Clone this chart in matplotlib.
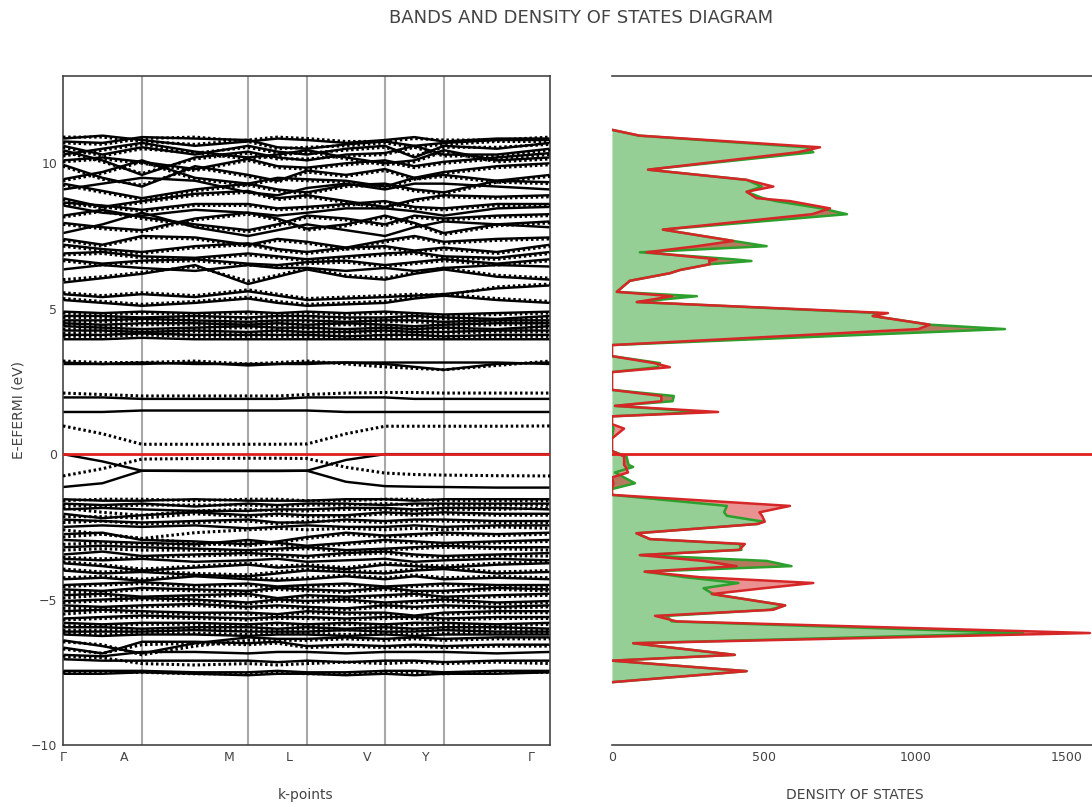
import matplotlib
matplotlib.use("Agg")
import matplotlib.pyplot as plt

plt.rcParams['font.family'] = ['DejaVu Sans']

# k-path: sample positions (nodes + midpoints), node positions, tick labels
k_dist = [0.0, 0.081, 0.162, 0.271, 0.380, 0.4405, 0.501, 0.581, 0.661, 0.7215, 0.782, 0.891, 1.0]
k_nodes = [0.162, 0.380, 0.501, 0.661, 0.782]
tick_k = [0.0, 0.125, 0.341, 0.464, 0.624, 0.745, 0.961]
tick_labels = ['Γ', 'A', 'M', 'L', 'V', 'Y', 'Γ']

# spin-up bands (solid), energies E-Ef in eV at k_dist
up_cond = [
    [10.85, 10.95, 10.8, 10.6, 10.75, 10.85, 10.8, 10.7, 10.8, 10.9, 10.75, 10.85, 10.85],
    [10.75, 10.7, 10.9, 10.85, 10.8, 10.55, 10.5, 10.65, 10.75, 10.6, 10.7, 10.8, 10.8],
    [10.6, 10.3, 10.55, 10.3, 10.6, 10.4, 10.3, 10.5, 10.6, 10.2, 10.6, 10.5, 10.7],
    [10.45, 10.1, 9.6, 10.2, 10.4, 10.2, 10.1, 10.3, 10.35, 10.6, 10.3, 10.3, 10.5],
    [10.3, 10.5, 10.7, 10.4, 10.2, 10.3, 10.45, 10.2, 10.0, 10.1, 10.45, 10.1, 10.2],
    [10.1, 10.2, 10.05, 9.8, 10.15, 9.9, 9.85, 10.0, 10.1, 9.9, 10.05, 10.2, 10.35],
    [9.95, 9.5, 9.2, 9.9, 9.6, 9.4, 9.75, 9.6, 9.8, 9.5, 9.7, 9.9, 10.0],
    [9.45, 9.7, 10.1, 9.5, 9.3, 9.5, 9.45, 9.4, 9.2, 9.5, 9.6, 9.4, 9.6],
    [9.3, 9.05, 8.8, 9.1, 9.3, 9.1, 9.0, 9.25, 9.3, 9.1, 9.0, 9.4, 9.35],
    [9.1, 9.3, 9.5, 9.4, 9.0, 8.9, 9.15, 9.3, 9.1, 9.3, 9.3, 9.2, 9.1],
    [8.8, 8.5, 8.7, 8.95, 9.05, 8.8, 8.9, 8.7, 8.5, 8.75, 8.9, 8.85, 8.9],
    [8.65, 8.55, 8.4, 8.6, 8.6, 8.45, 8.5, 8.6, 8.7, 8.5, 8.45, 8.6, 8.6],
    [8.55, 8.3, 8.2, 8.4, 8.3, 8.2, 8.3, 8.45, 8.45, 8.35, 8.2, 8.45, 8.5],
    [8.2, 8.4, 8.15, 7.9, 7.7, 7.9, 8.2, 8.1, 7.9, 8.2, 8.1, 8.2, 8.25],
    [7.95, 7.8, 7.7, 8.1, 8.3, 8.1, 7.75, 7.9, 8.2, 7.95, 7.6, 7.9, 8.0],
    [7.6, 7.9, 8.3, 7.8, 7.5, 7.7, 7.9, 7.7, 7.5, 7.8, 8.0, 7.9, 7.8],
    [7.4, 7.2, 7.5, 7.45, 7.2, 7.4, 7.3, 7.1, 7.35, 7.5, 7.3, 7.4, 7.45],
    [7.2, 7.05, 6.95, 7.15, 7.25, 7.05, 6.95, 7.1, 7.15, 7.0, 7.1, 6.95, 7.2],
    [6.9, 6.95, 6.8, 6.75, 6.9, 6.8, 6.7, 6.8, 6.9, 6.95, 6.8, 6.75, 6.95],
    [6.7, 6.55, 6.65, 6.7, 6.55, 6.5, 6.6, 6.65, 6.5, 6.6, 6.7, 6.55, 6.7],
    [6.35, 6.5, 6.4, 6.3, 6.5, 6.4, 6.4, 6.3, 6.4, 6.3, 6.4, 6.5, 6.45],
    [5.9, 6.05, 6.2, 6.5, 5.85, 6.1, 6.35, 6.1, 6.0, 6.2, 6.35, 6.1, 6.0],
    [5.5, 5.4, 5.5, 5.4, 5.6, 5.45, 5.3, 5.35, 5.4, 5.45, 5.5, 5.7, 5.8],
    [5.3, 5.2, 5.1, 5.2, 5.35, 5.2, 5.1, 5.15, 5.2, 5.35, 5.45, 5.3, 5.2],
]
up_block = [
    [4.9, 4.85, 4.9, 4.85, 4.9, 4.85, 4.9, 4.85, 4.9, 4.85, 4.8, 4.85, 4.9],
    [4.75, 4.75, 4.7, 4.75, 4.7, 4.75, 4.75, 4.7, 4.7, 4.75, 4.7, 4.65, 4.75],
    [4.6, 4.6, 4.65, 4.6, 4.55, 4.6, 4.6, 4.55, 4.6, 4.6, 4.55, 4.6, 4.6],
    [4.5, 4.45, 4.5, 4.5, 4.45, 4.5, 4.45, 4.5, 4.45, 4.4, 4.45, 4.5, 4.5],
    [4.4, 4.35, 4.3, 4.35, 4.4, 4.35, 4.35, 4.3, 4.35, 4.3, 4.35, 4.3, 4.4],
    [4.25, 4.25, 4.2, 4.25, 4.2, 4.25, 4.2, 4.2, 4.25, 4.2, 4.2, 4.25, 4.25],
    [4.1, 4.1, 4.15, 4.1, 4.1, 4.1, 4.1, 4.05, 4.1, 4.1, 4.05, 4.1, 4.1],
    [3.95, 3.95, 4.0, 3.95, 3.95, 3.95, 3.95, 3.95, 3.95, 3.95, 3.95, 3.95, 3.95],
]
up_gap = [
    [3.15, 3.1, 3.1, 3.15, 3.05, 3.1, 3.15, 3.15, 3.1, 3.0, 2.9, 3.1, 3.15],
    [3.1, 3.1, 3.15, 3.1, 3.1, 3.1, 3.1, 3.15, 3.15, 3.15, 3.15, 3.15, 3.1],
    [1.95, 1.95, 1.9, 1.9, 1.9, 1.9, 1.95, 1.95, 1.95, 1.9, 1.9, 1.9, 1.9],
    [1.45, 1.45, 1.5, 1.5, 1.5, 1.5, 1.5, 1.45, 1.45, 1.45, 1.45, 1.45, 1.45],
    [0.0, -0.25, -0.57, -0.57, -0.57, -0.57, -0.57, -0.2, 0.0, 0.0, 0.0, 0.0, 0.0],
    [-1.13, -1.0, -0.57, -0.58, -0.58, -0.58, -0.57, -0.95, -1.1, -1.12, -1.13, -1.15, -1.15],
]
up_valence = [
    [-1.55, -1.6, -1.6, -1.55, -1.6, -1.6, -1.6, -1.55, -1.55, -1.6, -1.55, -1.55, -1.55],
    [-1.7, -1.75, -1.7, -1.8, -1.7, -1.75, -1.7, -1.7, -1.75, -1.7, -1.7, -1.7, -1.7],
    [-1.9, -1.85, -1.9, -1.95, -1.95, -1.9, -1.9, -1.85, -1.85, -1.9, -1.85, -1.85, -1.9],
    [-2.05, -2.2, -2.1, -2.0, -2.1, -2.05, -2.1, -2.1, -2.0, -2.05, -2.0, -2.05, -2.05],
    [-2.25, -2.3, -2.35, -2.3, -2.25, -2.35, -2.35, -2.25, -2.3, -2.25, -2.25, -2.3, -2.3],
    [-2.5, -2.45, -2.5, -2.45, -2.55, -2.5, -2.45, -2.5, -2.5, -2.45, -2.5, -2.45, -2.45],
    [-2.75, -2.7, -2.95, -3.0, -3.1, -3.0, -2.85, -2.7, -2.8, -2.75, -2.7, -2.75, -2.7],
    [-2.95, -3.0, -3.05, -3.1, -2.95, -3.05, -3.15, -3.05, -2.95, -3.0, -3.05, -3.0, -2.95],
    [-3.2, -3.15, -3.2, -3.25, -3.3, -3.25, -3.2, -3.3, -3.25, -3.2, -3.15, -3.2, -3.2],
    [-3.45, -3.35, -3.5, -3.45, -3.4, -3.45, -3.5, -3.4, -3.35, -3.45, -3.5, -3.45, -3.4],
    [-3.6, -3.65, -3.6, -3.7, -3.65, -3.6, -3.7, -3.65, -3.6, -3.7, -3.65, -3.6, -3.65],
    [-3.75, -3.85, -4.0, -3.9, -3.8, -3.9, -3.85, -3.95, -3.8, -3.85, -3.9, -3.8, -3.75],
    [-4.0, -4.1, -4.05, -4.15, -4.2, -4.1, -4.0, -4.05, -4.1, -4.0, -3.95, -4.1, -4.05],
    [-4.3, -4.25, -4.35, -4.2, -4.3, -4.35, -4.3, -4.2, -4.3, -4.2, -4.3, -4.25, -4.3],
    [-4.5, -4.45, -4.4, -4.5, -4.45, -4.55, -4.5, -4.45, -4.55, -4.5, -4.45, -4.5, -4.5],
    [-4.65, -4.7, -4.6, -4.65, -4.7, -4.6, -4.65, -4.7, -4.6, -4.7, -4.7, -4.6, -4.65],
    [-4.85, -4.8, -4.9, -4.85, -4.8, -4.95, -4.85, -4.9, -4.85, -4.8, -4.9, -4.85, -4.8],
    [-5.05, -5.0, -4.95, -5.0, -5.1, -5.0, -5.05, -5.0, -5.1, -5.05, -5.0, -5.1, -5.05],
    [-5.2, -5.25, -5.2, -5.15, -5.25, -5.2, -5.25, -5.3, -5.2, -5.25, -5.2, -5.25, -5.2],
    [-5.4, -5.35, -5.4, -5.45, -5.45, -5.5, -5.4, -5.45, -5.45, -5.55, -5.45, -5.4, -5.4],
    [-5.65, -5.6, -5.55, -5.6, -5.65, -5.6, -5.6, -5.65, -5.6, -5.6, -5.65, -5.6, -5.6],
    [-5.8, -5.85, -5.8, -5.8, -5.85, -5.8, -5.85, -5.8, -5.85, -5.8, -5.8, -5.85, -5.8],
    [-5.95, -5.95, -6.0, -5.95, -5.95, -6.0, -5.95, -6.0, -5.95, -6.0, -5.95, -5.95, -6.0],
    [-6.1, -6.1, -6.1, -6.05, -6.1, -6.1, -6.1, -6.05, -6.1, -6.1, -6.05, -6.1, -6.1],
    [-6.2, -6.25, -6.2, -6.2, -6.25, -6.2, -6.2, -6.25, -6.2, -6.25, -6.2, -6.2, -6.2],
    [-6.4, -6.6, -6.85, -6.5, -6.3, -6.35, -6.35, -6.3, -6.35, -6.3, -6.35, -6.3, -6.3],
    [-6.65, -6.85, -6.45, -6.45, -6.5, -6.45, -6.6, -6.55, -6.6, -6.55, -6.6, -6.55, -6.55],
    [-6.9, -6.95, -6.8, -6.8, -6.85, -6.8, -6.8, -6.85, -6.8, -6.8, -6.8, -6.85, -6.8],
    [-7.05, -7.1, -7.1, -7.1, -7.1, -7.15, -7.1, -7.15, -7.1, -7.1, -7.15, -7.1, -7.1],
    [-7.45, -7.45, -7.45, -7.5, -7.5, -7.45, -7.5, -7.5, -7.45, -7.45, -7.5, -7.45, -7.45],
    [-7.55, -7.55, -7.5, -7.55, -7.6, -7.55, -7.55, -7.6, -7.55, -7.6, -7.55, -7.55, -7.5],
]

# spin-down bands (dotted)
dn_cond = [
    [10.9, 10.9, 10.75, 10.65, 10.8, 10.9, 10.85, 10.75, 10.75, 10.85, 10.8, 10.8, 10.9],
    [10.7, 10.65, 10.85, 10.9, 10.75, 10.5, 10.55, 10.6, 10.7, 10.55, 10.65, 10.75, 10.75],
    [10.55, 10.25, 10.5, 10.35, 10.55, 10.35, 10.35, 10.45, 10.55, 10.25, 10.55, 10.55, 10.65],
    [10.4, 10.05, 9.65, 10.15, 10.35, 10.15, 10.15, 10.25, 10.3, 10.55, 10.25, 10.25, 10.45],
    [10.25, 10.45, 10.65, 10.35, 10.15, 10.25, 10.4, 10.15, 9.95, 10.05, 10.4, 10.05, 10.15],
    [10.05, 10.15, 10.0, 9.75, 10.1, 9.85, 9.8, 9.95, 10.05, 9.85, 10.0, 10.15, 10.3],
    [9.9, 9.45, 9.25, 9.85, 9.55, 9.35, 9.7, 9.55, 9.75, 9.45, 9.65, 9.85, 9.95],
    [9.4, 9.65, 10.05, 9.45, 9.25, 9.45, 9.4, 9.35, 9.15, 9.45, 9.55, 9.35, 9.55],
    [9.25, 9.0, 8.75, 9.05, 9.25, 9.05, 8.95, 9.2, 9.25, 9.05, 8.95, 9.35, 9.3],
    [8.75, 8.45, 8.65, 8.9, 9.0, 8.75, 8.85, 8.65, 8.45, 8.7, 8.85, 8.8, 8.85],
    [8.6, 8.5, 8.35, 8.55, 8.55, 8.4, 8.45, 8.55, 8.65, 8.45, 8.4, 8.55, 8.55],
    [8.15, 8.35, 8.1, 7.85, 7.65, 7.85, 8.15, 8.05, 7.85, 8.15, 8.05, 8.15, 8.2],
    [7.9, 7.75, 7.65, 8.05, 8.25, 8.05, 7.7, 7.85, 8.15, 7.9, 7.55, 7.85, 7.95],
    [7.35, 7.15, 7.45, 7.4, 7.15, 7.35, 7.25, 7.05, 7.3, 7.45, 7.25, 7.35, 7.4],
    [7.15, 7.0, 6.9, 7.1, 7.2, 7.0, 6.9, 7.05, 7.1, 6.95, 7.05, 6.9, 7.15],
    [6.85, 6.9, 6.75, 6.7, 6.85, 6.75, 6.65, 6.75, 6.85, 6.9, 6.75, 6.7, 6.9],
    [6.65, 6.5, 6.6, 6.65, 6.5, 6.45, 6.55, 6.6, 6.45, 6.55, 6.65, 6.5, 6.65],
    [6.0, 6.1, 6.25, 6.45, 5.95, 6.15, 6.4, 6.15, 6.05, 6.25, 6.4, 6.15, 6.05],
    [5.55, 5.45, 5.55, 5.45, 5.65, 5.5, 5.35, 5.4, 5.45, 5.5, 5.45, 5.75, 5.85],
    [5.35, 5.25, 5.15, 5.25, 5.4, 5.25, 5.15, 5.2, 5.25, 5.4, 5.5, 5.35, 5.25],
]
dn_block = [
    [4.85, 4.8, 4.85, 4.8, 4.85, 4.8, 4.85, 4.8, 4.85, 4.8, 4.75, 4.8, 4.85],
    [4.7, 4.7, 4.65, 4.7, 4.65, 4.7, 4.7, 4.65, 4.65, 4.7, 4.65, 4.6, 4.7],
    [4.55, 4.55, 4.6, 4.55, 4.5, 4.55, 4.55, 4.5, 4.55, 4.55, 4.5, 4.55, 4.55],
    [4.45, 4.4, 4.45, 4.45, 4.4, 4.45, 4.4, 4.45, 4.4, 4.35, 4.4, 4.45, 4.45],
    [4.3, 4.3, 4.25, 4.3, 4.35, 4.3, 4.3, 4.25, 4.3, 4.25, 4.3, 4.25, 4.35],
    [4.15, 4.2, 4.15, 4.2, 4.15, 4.2, 4.15, 4.15, 4.2, 4.15, 4.15, 4.2, 4.2],
    [4.05, 4.05, 4.1, 4.05, 4.05, 4.05, 4.05, 4.0, 4.05, 4.05, 4.0, 4.05, 4.05],
]
dn_gap = [
    [3.2, 3.15, 3.15, 3.2, 3.1, 3.15, 3.2, 3.1, 3.0, 2.95, 2.9, 3.05, 3.2],
    [2.1, 2.05, 2.0, 2.0, 2.0, 2.0, 2.05, 2.1, 2.12, 2.12, 2.1, 2.1, 2.1],
    [0.97, 0.7, 0.34, 0.34, 0.34, 0.34, 0.35, 0.7, 0.96, 0.96, 0.96, 0.96, 0.97],
    [-0.75, -0.5, -0.17, -0.15, -0.14, -0.14, -0.15, -0.45, -0.65, -0.7, -0.72, -0.74, -0.75],
]
dn_valence = [
    [-1.6, -1.55, -1.55, -1.6, -1.55, -1.55, -1.6, -1.6, -1.55, -1.55, -1.6, -1.6, -1.6],
    [-1.75, -1.8, -1.75, -1.75, -1.75, -1.8, -1.75, -1.75, -1.7, -1.75, -1.75, -1.75, -1.75],
    [-1.85, -2.0, -2.1, -1.95, -1.9, -1.95, -1.95, -1.9, -1.9, -1.95, -1.9, -1.9, -1.85],
    [-2.15, -2.15, -2.2, -2.05, -2.15, -2.1, -2.15, -2.15, -2.05, -2.1, -2.05, -2.1, -2.1],
    [-2.35, -2.3, -2.4, -2.35, -2.3, -2.4, -2.3, -2.3, -2.35, -2.3, -2.3, -2.35, -2.35],
    [-2.6, -2.75, -2.9, -2.7, -2.6, -2.55, -2.6, -2.55, -2.6, -2.55, -2.6, -2.5, -2.55],
    [-2.85, -2.75, -2.9, -3.05, -3.15, -3.05, -2.9, -2.75, -2.85, -2.8, -2.75, -2.8, -2.75],
    [-3.1, -3.05, -3.1, -3.15, -3.0, -3.1, -3.2, -3.1, -3.0, -3.05, -3.1, -3.05, -3.0],
    [-3.3, -3.25, -3.3, -3.3, -3.35, -3.3, -3.25, -3.35, -3.3, -3.25, -3.2, -3.25, -3.3],
    [-3.55, -3.6, -3.55, -3.5, -3.45, -3.5, -3.55, -3.45, -3.4, -3.5, -3.55, -3.5, -3.5],
    [-3.7, -3.8, -3.95, -3.85, -3.75, -3.85, -3.8, -3.9, -3.75, -3.8, -3.85, -3.75, -3.7],
    [-3.95, -4.05, -4.0, -4.1, -4.15, -4.05, -3.95, -4.0, -4.05, -3.95, -3.9, -4.05, -4.0],
    [-4.25, -4.2, -4.3, -4.15, -4.25, -4.3, -4.25, -4.15, -4.25, -4.15, -4.25, -4.2, -4.25],
    [-4.55, -4.5, -4.45, -4.55, -4.5, -4.6, -4.55, -4.5, -4.6, -4.55, -4.5, -4.55, -4.55],
    [-4.75, -4.75, -4.65, -4.7, -4.75, -4.65, -4.7, -4.75, -4.65, -4.75, -4.75, -4.65, -4.7],
    [-4.95, -4.85, -4.95, -4.9, -4.85, -5.0, -4.9, -4.95, -4.9, -4.85, -4.95, -4.9, -4.85],
    [-5.1, -5.05, -5.0, -5.05, -5.15, -5.05, -5.1, -5.05, -5.15, -5.1, -5.05, -5.15, -5.1],
    [-5.3, -5.3, -5.25, -5.2, -5.3, -5.25, -5.3, -5.35, -5.25, -5.3, -5.25, -5.3, -5.25],
    [-5.5, -5.4, -5.45, -5.5, -5.5, -5.55, -5.45, -5.5, -5.5, -5.6, -5.5, -5.45, -5.45],
    [-5.7, -5.65, -5.6, -5.65, -5.7, -5.65, -5.65, -5.7, -5.65, -5.65, -5.7, -5.65, -5.65],
    [-5.9, -5.9, -5.85, -5.85, -5.9, -5.85, -5.9, -5.85, -5.9, -5.85, -5.85, -5.9, -5.85],
    [-6.05, -6.05, -6.05, -6.0, -6.05, -6.05, -6.0, -6.05, -6.0, -6.05, -6.0, -6.0, -6.05],
    [-6.15, -6.2, -6.15, -6.15, -6.2, -6.15, -6.15, -6.2, -6.15, -6.2, -6.15, -6.15, -6.15],
    [-6.45, -6.55, -6.9, -6.6, -6.4, -6.4, -6.4, -6.35, -6.4, -6.35, -6.4, -6.35, -6.35],
    [-6.7, -6.85, -6.55, -6.5, -6.55, -6.5, -6.65, -6.6, -6.65, -6.6, -6.65, -6.6, -6.6],
    [-6.95, -7.0, -7.2, -7.25, -7.2, -7.25, -7.2, -7.15, -7.2, -7.15, -7.2, -7.15, -7.2],
    [-7.5, -7.5, -7.5, -7.55, -7.55, -7.5, -7.55, -7.55, -7.5, -7.5, -7.55, -7.5, -7.5],
]

# density of states: energy grid, spin-up (green) and spin-down (red)
dos_energy = [11.15, 10.95, 10.55, 10.38, 9.78, 9.43, 9.2, 9.02, 8.8, 8.7, 8.45, 8.25,
              7.72, 7.33, 7.15, 6.94, 6.7, 6.64, 6.53, 6.33, 6.22, 5.96, 5.58, 5.43,
              5.23, 4.85, 4.75, 4.45, 4.3, 3.75, 3.37, 3.13, 2.99, 2.82, 2.21, 2.0,
              1.82, 1.66, 1.45, 1.3, 1.03, 0.88, 0.54, 0.11, -0.08, -0.37, -0.44,
              -0.63, -0.8, -1.0, -1.2, -1.4, -1.78, -2.0, -2.12, -2.32, -2.4, -2.72,
              -2.92, -3.09, -3.29, -3.47, -3.67, -3.85, -4.04, -4.23, -4.43, -4.61,
              -4.81, -5.2, -5.35, -5.56, -5.75, -6.15, -6.5, -6.9, -7.1, -7.46, -7.84]
dos_up = [0, 88, 640, 664, 119, 444, 494, 444, 498, 540, 690, 775,
          168, 400, 510, 92, 400, 460, 323, 224, 191, 59, 16, 280,
          82, 880, 860, 1050, 1296, 0, 0, 158, 150, 0, 0, 204,
          200, 10, 300, 0, 0, 5, 0, 0, 48, 55, 70,
          10, 40, 76, 0, 0, 379, 370, 379, 499, 480, 81,
          125, 420, 427, 92, 510, 592, 108, 240, 417, 302,
          334, 571, 520, 180, 197, 1356, 70, 405, 0, 444, 0]
dos_dn = [0, 92, 686, 614, 119, 444, 532, 444, 477, 587, 719, 660,
          168, 400, 280, 114, 345, 320, 323, 224, 191, 59, 16, 198,
          82, 910, 860, 1048, 1010, 0, 0, 140, 191, 0, 0, 163,
          163, 10, 350, 0, 0, 40, 0, 0, 40, 40, 45,
          53, 0, 5, 0, 0, 587, 486, 495, 504, 480, 81,
          125, 438, 420, 92, 300, 411, 108, 290, 664, 500,
          329, 571, 532, 142, 214, 1576, 70, 405, 0, 444, 0]

TXT = '#444444'
fig = plt.figure(figsize=(10.92, 8.07), dpi=100)
ax = fig.add_axes([0.0577, 0.0768, 0.446, 0.829])
ax2 = fig.add_axes([0.5604, 0.0768, 0.4396, 0.829])

for kx in k_nodes:
    ax.axvline(kx, color='#a8a8a8', lw=1.5, zorder=1)

for band in up_cond + up_block + up_gap + up_valence:
    ax.plot(k_dist, band, color='black', lw=1.75, zorder=2)
for band in dn_cond + dn_block + dn_gap + dn_valence:
    ax.plot(k_dist, band, color='black', lw=2.2, linestyle=(0, (0.8, 0.9)), zorder=3)

ax.axhline(0, color='#e0201e', lw=2, zorder=4)
ax.set_xlim(0, 1)
ax.set_ylim(-10, 13)
ax.set_yticks([-10, -5, 0, 5, 10])
ax.set_yticklabels(['−10', '−5', '0', '5', '10'])
ax.set_xticks(tick_k)
ax.set_xticklabels(tick_labels)
ax.tick_params(length=0, labelsize=9, colors=TXT, pad=4)
for s in ax.spines.values():
    s.set_color(TXT)
    s.set_linewidth(1.2)

# DOS panel
ax2.fill_betweenx(dos_energy, 0, dos_up, color=(44/255, 160/255, 44/255, 0.5), lw=0, zorder=1)
ax2.fill_betweenx(dos_energy, dos_up, dos_dn, color=(214/255, 39/255, 39/255, 0.5), lw=0, zorder=2)
ax2.plot(dos_up, dos_energy, color='#2ca02c', lw=1.8, zorder=3)
ax2.plot(dos_dn, dos_energy, color='#d62728', lw=1.8, zorder=4)
ax2.axhline(0, color='#e0201e', lw=2, zorder=5)
ax2.set_xlim(0, 1583)
ax2.set_ylim(-10, 13)
ax2.set_yticks([])
ax2.set_xticks([0, 500, 1000, 1500])
ax2.tick_params(length=0, labelsize=9, colors=TXT, pad=4)
ax2.spines['left'].set_visible(False)
ax2.spines['right'].set_visible(False)
for side in ('top', 'bottom'):
    ax2.spines[side].set_color(TXT)
    ax2.spines[side].set_linewidth(1.2)

fig.text(0.2802, 0.0149, 'k-points', ha='center', va='center', fontsize=10, color=TXT)
fig.text(0.783, 0.0149, 'DENSITY OF STATES', ha='center', va='center', fontsize=10, color=TXT)
fig.text(0.0165, 0.492, 'E-EFERMI (eV)', ha='center', va='center', rotation=90,
         fontsize=10, color=TXT)
fig.text(0.532, 0.978, 'BANDS AND DENSITY OF STATES DIAGRAM', ha='center', va='center',
         fontsize=13, color=TXT)

fig.savefig('out.png', dpi=100)
